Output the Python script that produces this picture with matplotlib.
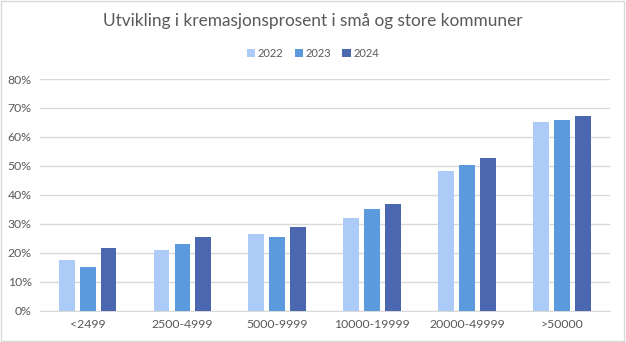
import numpy as np
import matplotlib.pyplot as plt
from matplotlib.ticker import PercentFormatter

# data
kategorier = ['<2499', '2500-4999', '5000-9999', '10000-19999', '20000-49999', '>50000']
aar = ['2022', '2023', '2024']
v2022 = [17.5, 21.0, 26.5, 32.0, 48.2, 65.2]
v2023 = [15.1, 23.0, 25.4, 35.1, 50.3, 65.9]
v2024 = [21.6, 25.4, 28.9, 36.8, 52.7, 67.3]
farger = ['#ADCBF7', '#5B9BDD', '#4A67AF']

plt.rcParams['font.family'] = ['Lato', 'DejaVu Sans']

fig = plt.figure(figsize=(6.26, 3.42), dpi=100)
ax = fig.add_axes([0.064, 0.091, 0.91, 0.678])

x = np.arange(len(kategorier))
bredde = 0.168
avstand = 0.221
for i, (verdier, farge) in enumerate(zip([v2022, v2023, v2024], farger)):
    ax.bar(x + (i - 1) * avstand, verdier, bredde, color=farge, label=aar[i], zorder=3)

ax.set_ylim(0, 80)
ax.set_xlim(-0.5, len(kategorier) - 0.5)
ax.set_yticks(np.arange(0, 81, 10))
ax.yaxis.set_major_formatter(PercentFormatter(decimals=0))
ax.set_xticks(x)
ax.set_xticklabels(kategorier)
ax.grid(axis='y', color='#D9D9D9', linewidth=1, zorder=0)
for s in ['top', 'right', 'left']:
    ax.spines[s].set_visible(False)
ax.spines['bottom'].set_color('#D9D9D9')
ax.tick_params(length=0, labelsize=8.8, colors='#595959', pad=6)

fig.text(0.5, 0.94, 'Utvikling i kremasjonsprosent i små og store kommuner',
         ha='center', va='center', fontsize=12.4, color='#595959')
fig.legend(loc='center', bbox_to_anchor=(0.5, 0.843), ncol=3, frameon=False,
           fontsize=8, handlelength=0.75, handleheight=0.75, handletextpad=0.25,
           columnspacing=1.0, labelcolor='#595959')

# thin frame around the chart
fig.patches.append(plt.Rectangle((0.002, 0.003), 0.995, 0.993, transform=fig.transFigure,
                                 fill=False, edgecolor='#D9D9D9', linewidth=1))

fig.savefig('out.png', dpi=100)
